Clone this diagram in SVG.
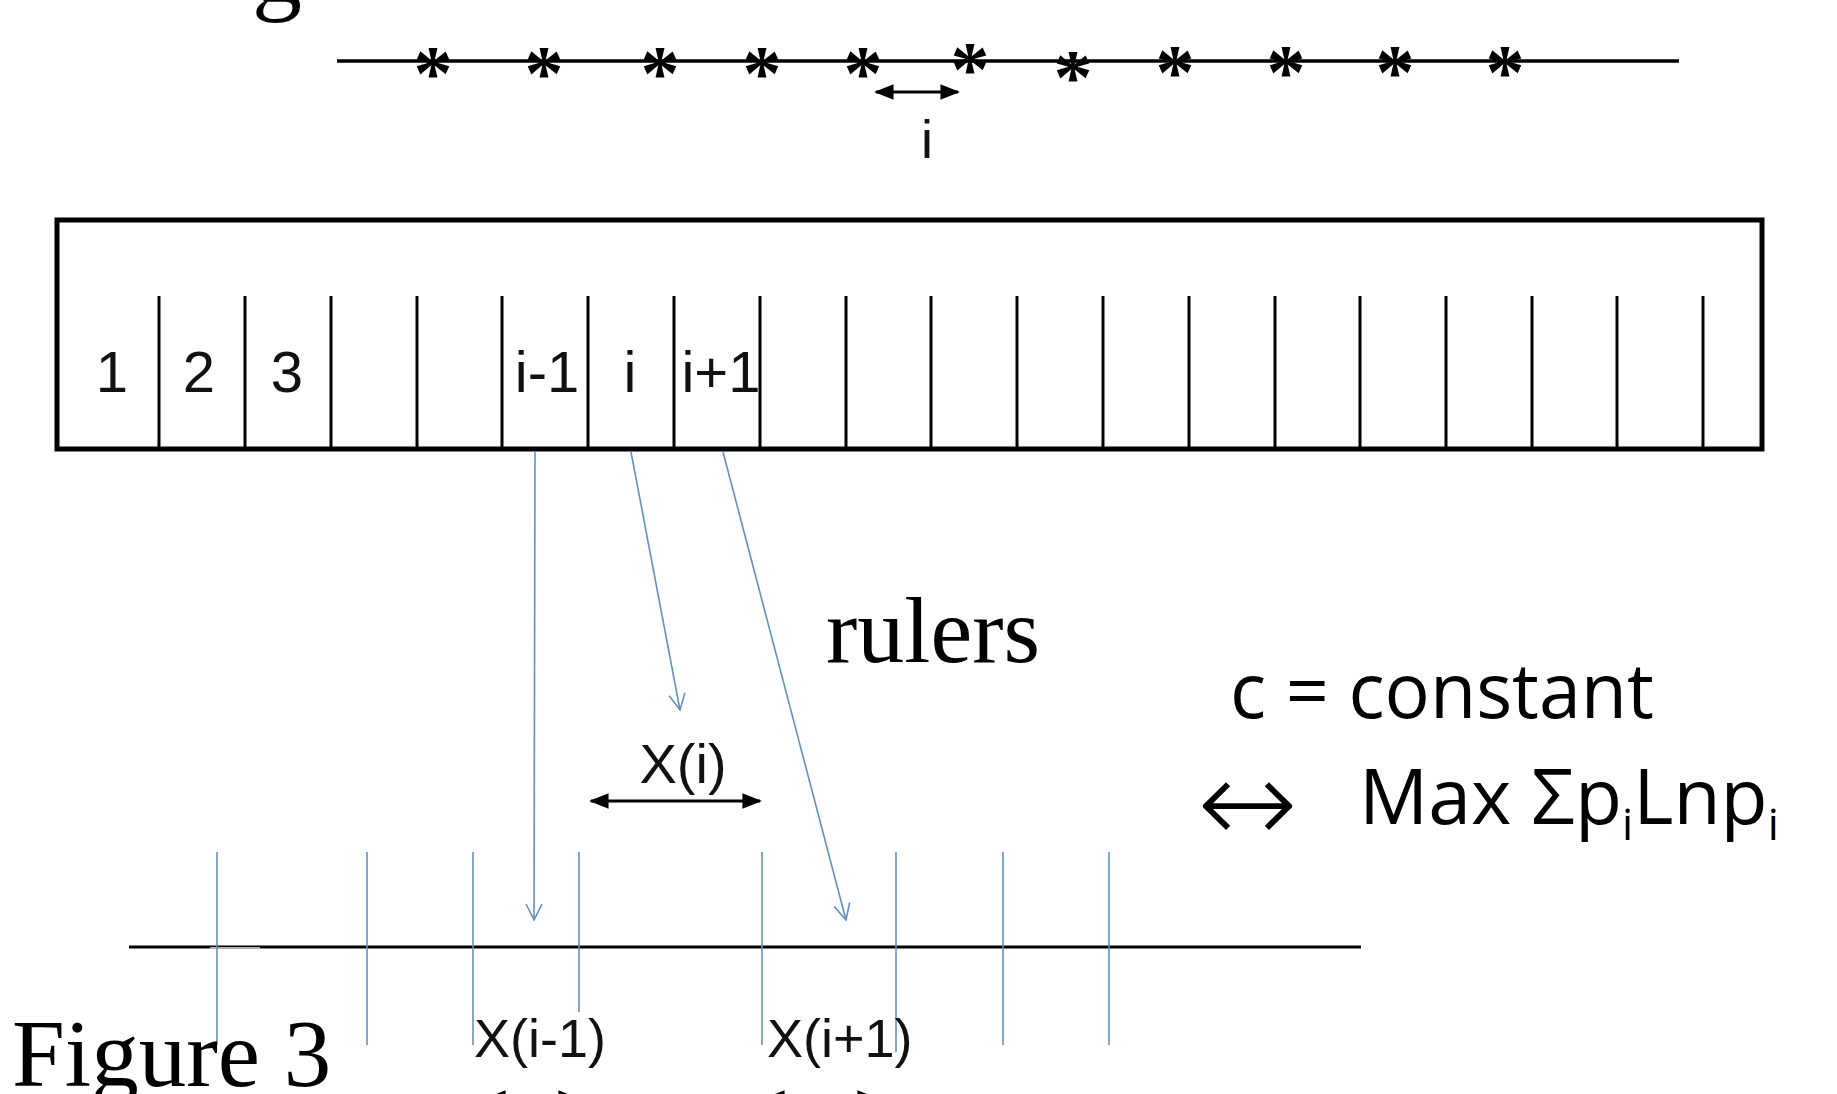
<svg xmlns="http://www.w3.org/2000/svg" width="1837" height="1094" viewBox="0 0 1837 1094">
<defs>
<style>
.blk{stroke:#000;fill:none;stroke-linecap:butt}
.blue{stroke:#6590bd;stroke-width:1.6;fill:none}
.ar{font-family:"Liberation Sans",Arial,sans-serif;fill:#111}
.tm{font-family:"Liberation Serif","Times New Roman",serif;fill:#000}
.cal{font-family:"Open Sans","Noto Sans",sans-serif;fill:#000}
.ast{font-family:"Liberation Serif",serif;font-weight:bold;font-size:78px;text-anchor:middle;fill:#000}
</style>
<marker id="fh" viewBox="0 0 10 10" refX="9" refY="5" markerWidth="6.5" markerHeight="6.5" orient="auto-start-reverse" markerUnits="strokeWidth">
<path d="M0,1 L10,5 L0,9 z" fill="#000"/>
</marker>
<marker id="oh" viewBox="0 0 20 20" refX="18" refY="10" markerWidth="20" markerHeight="20" orient="auto" markerUnits="userSpaceOnUse">
<path d="M2,2 L18,10 L2,18" fill="none" stroke="#6590bd" stroke-width="1.6"/>
</marker>
</defs>
<rect width="1837" height="1094" fill="#fff"/>

<g id="cut-title"><text class="tm" x="252" y="2" font-size="100">g</text></g>

<g id="top-scale">
<line class="blk" x1="337" y1="61" x2="1679" y2="61" stroke-width="3.5"/>
<text class="ast" x="433" y="99">*</text>
<text class="ast" x="544" y="99">*</text>
<text class="ast" x="660" y="99">*</text>
<text class="ast" x="762" y="99">*</text>
<text class="ast" x="863" y="99">*</text>
<text class="ast" x="970" y="95">*</text>
<text class="ast" x="1073" y="103">*</text>
<text class="ast" x="1175" y="98">*</text>
<text class="ast" x="1286" y="98">*</text>
<text class="ast" x="1395" y="98">*</text>
<text class="ast" x="1505" y="98">*</text>
<line class="blk" x1="876" y1="92" x2="958" y2="92" stroke-width="3" marker-start="url(#fh)" marker-end="url(#fh)"/>
<text class="ar" x="927" y="158" font-size="54" text-anchor="middle">i</text>
</g>

<g id="ruler-box">
<rect x="57" y="220" width="1705" height="229" fill="none" stroke="#000" stroke-width="5"/>
<path class="blk" stroke-width="3" d="M159,296V449M245,296V449M331,296V449M417,296V449M502,296V449M588,296V449M674,296V449M760,296V449M846,296V449M931,296V449M1017,296V449M1103,296V449M1189,296V449M1275,296V449M1360,296V449M1446,296V449M1532,296V449M1617,296V449M1703,296V449"/>
<g class="ar" font-size="58" text-anchor="middle">
<text x="112" y="392">1</text>
<text x="199" y="392">2</text>
<text x="287" y="392">3</text>
<text x="547" y="392">i-1</text>
<text x="630" y="392">i</text>
<text x="721" y="392">i+1</text>
</g>
</g>

<g id="label-rulers"><text class="tm" x="826" y="662" font-size="94">rulers</text></g>

<g id="label-xi">
<text class="ar" x="683" y="783" font-size="56" text-anchor="middle">X(i)</text>
<line class="blk" x1="591" y1="801" x2="760" y2="801" stroke-width="3" marker-start="url(#fh)" marker-end="url(#fh)"/>
</g>

<g id="formula">
<text class="cal" x="1230" y="718" font-size="76" textLength="424" lengthAdjust="spacingAndGlyphs">c = constant</text>
<text x="1197" y="843" font-family="DejaVu Sans,sans-serif" font-weight="200" font-size="118" textLength="101" lengthAdjust="spacingAndGlyphs">↔</text>
<text class="cal" x="1359" y="824" font-size="77">Max Σp<tspan font-size="44" dy="16">i</tspan><tspan dy="-16">Lnp</tspan><tspan font-size="44" dy="16">i</tspan></text>
</g>

<g id="bottom-ruler">
<line class="blk" x1="129" y1="947" x2="1361" y2="947" stroke-width="3"/>
<line x1="210" y1="948" x2="260" y2="948" stroke="#b0b0b0" stroke-width="2"/>
<path class="blue" d="M217,852V1045M367,852V1045M473,852V1045M579,852V1012M762,852V1045M896,852V1052M1003,852V1045M1109,852V1045"/>
<text class="ar" x="474" y="1057" font-size="54">X(i-1)</text>
<text class="ar" x="767" y="1057" font-size="54">X(i+1)</text>
<line class="blk" x1="488" y1="1098" x2="576" y2="1098" stroke-width="3" marker-start="url(#fh)" marker-end="url(#fh)"/>
<line class="blk" x1="767" y1="1098" x2="875" y2="1098" stroke-width="3" marker-start="url(#fh)" marker-end="url(#fh)"/>
</g>

<g id="connectors">
<line class="blue" x1="535" y1="451" x2="534" y2="920" marker-end="url(#oh)"/>
<line class="blue" x1="631" y1="452" x2="680" y2="710" marker-end="url(#oh)"/>
<line class="blue" x1="723" y1="452" x2="846" y2="920" marker-end="url(#oh)"/>
</g>

<g id="caption"><text class="tm" x="12" y="1086" font-size="95">Figure 3</text></g>
</svg>
